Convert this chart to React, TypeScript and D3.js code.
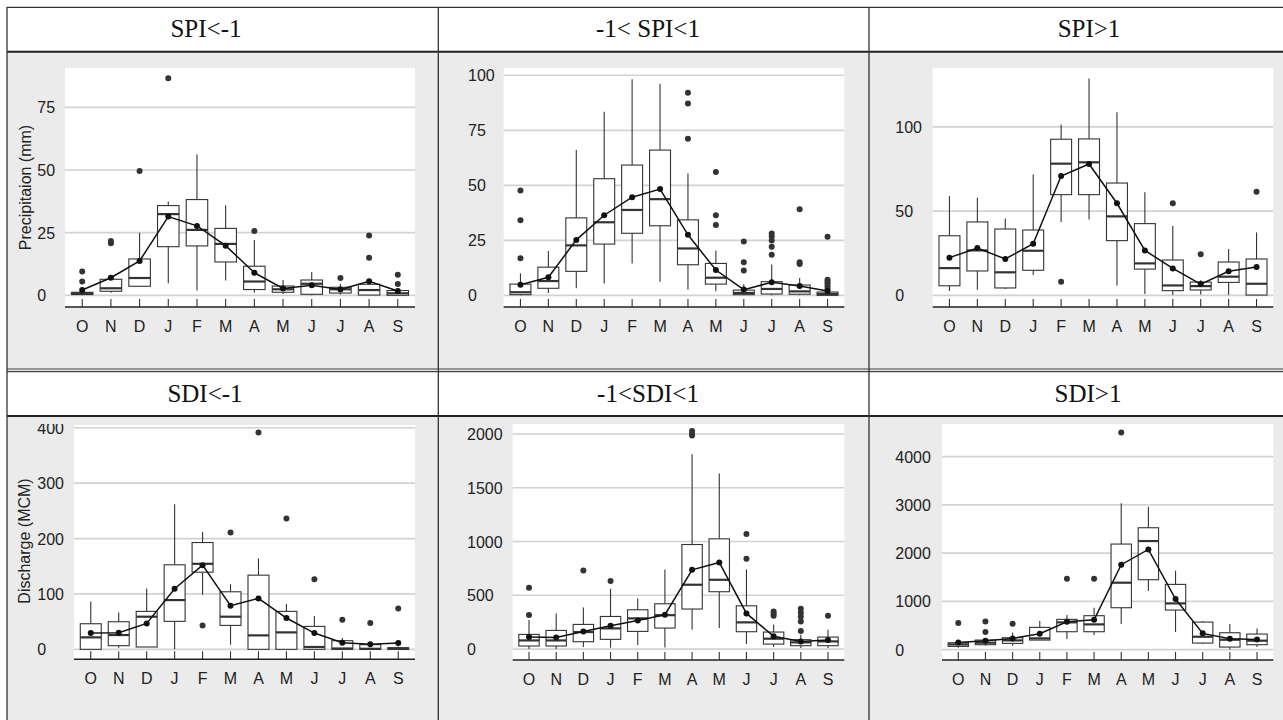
import React from "react";
import * as d3 from "d3";

const months = ["O", "N", "D", "J", "F", "M", "A", "M", "J", "J", "A", "S"];

// box stats per month: [lower whisker, q1, median, q3, upper whisker]
const spiDryBoxes = [
  [0, 0.3, 0.8, 1.2, 2.5],
  [1.0, 1.6, 2.8, 6.4, 7],
  [3.3, 3.6, 6.9, 14.5, 25.0],
  [4.8, 19.4, 32.4, 35.8, 37.4],
  [1.9, 19.7, 26.1, 38.2, 56.2],
  [5.9, 13.3, 20.5, 26.7, 35.9],
  [1, 2.3, 5.5, 11.6, 22.1],
  [0.5, 1.2, 2.4, 3.7, 6.1],
  [0, 0.4, 4.6, 6.1, 9.3],
  [0.3, 0.9, 2.4, 3.2, 4.5],
  [0, 0.1, 2.1, 4.4, 5.5],
  [0, 0, 0.8, 1.9, 2.5],
];
const spiDryMeans = [2.1, 7.0, 13.7, 31.4, 27.7, 19.8, 9.0, 2.7, 4.0, 2.3, 5.6, 1.7];
const spiDryOutliers = [[5.5, 9.5], [20.8, 21.7], [49.6], [86.6], [], [], [25.7], [], [], [6.9], [15.0, 23.9], [4.5, 8.2]];

const spiNormBoxes = [
  [0, 0.3, 1.4, 5.1, 10.0],
  [1.1, 3.2, 6.5, 12.8, 20.1],
  [3.2, 10.9, 22.7, 35.2, 66.0],
  [5.4, 23.3, 33.2, 53.0, 83.4],
  [14.5, 28.2, 38.8, 59.2, 98.2],
  [6.2, 31.6, 43.7, 66.0, 96.2],
  [2.6, 13.9, 21.3, 34.3, 55.4],
  [1.8, 5.1, 8.0, 14.5, 20.4],
  [0, 0.3, 1.1, 2.4, 5.0],
  [0, 0.6, 2.9, 6.2, 14.0],
  [0, 0.5, 1.8, 4.7, 7.9],
  [0, 0, 0.6, 1.5, 2.2],
];
const spiNormMeans = [4.8, 8.2, 25.2, 36.4, 44.6, 48.3, 27.5, 11.5, 2.6, 5.9, 4.2, 2.0];
const spiNormOutliers = [
  [16.8, 34.1, 47.6], [], [], [], [], [], [71.1, 87.2, 92.1], [32.0, 36.4, 56.0],
  [11.3, 15.0, 24.5], [18.4, 22.1, 24.9, 26.7, 28.1], [14.2, 15.0, 39.1], [2.9, 4.1, 5.3, 6.2, 7.1, 26.6],
];

const spiWetBoxes = [
  [2.6, 5.7, 16.2, 35.4, 59.0],
  [3.4, 14.5, 26.7, 43.6, 58.0],
  [3.8, 4.4, 13.7, 39.4, 45.7],
  [12.1, 14.9, 26.5, 38.8, 71.7],
  [43.6, 59.8, 78.2, 92.7, 101.4],
  [45.0, 59.8, 79.0, 92.9, 128.7],
  [5.9, 32.5, 46.9, 66.7, 108.7],
  [0.8, 15.6, 19.0, 42.6, 61.2],
  [0.2, 2.8, 5.9, 21.0, 41.2],
  [0.5, 3.2, 5.5, 7.9, 9.0],
  [0.2, 7.7, 11.1, 19.8, 27.5],
  [0, 0.2, 6.9, 21.6, 37.4],
];
const spiWetMeans = [22.4, 28.1, 21.6, 30.7, 70.9, 78.0, 54.7, 26.7, 16.0, 6.7, 14.3, 16.8];
const spiWetOutliers = [[], [], [], [], [8.1], [], [], [], [54.7], [24.4], [], [61.6]];

const sdiDryBoxes = [
  [0, 0, 21.6, 46.2, 86.5],
  [3, 6.6, 25.8, 49.8, 66.7],
  [4.2, 4.2, 58.9, 68.5, 109.9],
  [0, 50.5, 88.9, 152.6, 261.9],
  [98.5, 139.3, 154.4, 192.8, 212],
  [8.4, 43.2, 58.9, 103.9, 117.7],
  [0, 0, 25.2, 133.9, 164.0],
  [0, 0, 30.6, 68.5, 81.7],
  [0, 0, 4.2, 41.4, 60.1],
  [0, 0, 1.5, 15.6, 20.4],
  [0, 0, 1.0, 8.4, 12],
  [0, 0, 1.0, 3.0, 5],
];
const sdiDryMeans = [29.4, 30.0, 46.8, 109.3, 152.0, 78.7, 91.9, 56.5, 29.4, 12.0, 9.0, 11.4];
const sdiDryOutliers = [[], [], [], [], [43.2], [210.8], [391.6], [236.0], [126.7], [53.5], [47.4], [73.9]];

const sdiNormBoxes = [
  [0, 28, 80, 136, 269],
  [0, 28, 80, 173, 331],
  [19, 68, 158, 229, 387],
  [12, 90, 192, 303, 560],
  [37, 164, 285, 365, 471],
  [15, 195, 315, 421, 740],
  [180, 372, 598, 972, 1811],
  [195, 533, 644, 1025, 1632],
  [46, 161, 248, 402, 740],
  [19, 46, 96, 158, 229],
  [10, 31, 62, 87, 133],
  [9, 31, 71, 111, 180],
];
const sdiNormMeans = [111, 108, 164, 217, 266, 319, 737, 805, 331, 118, 71, 84];
const sdiNormOutliers = [
  [316, 570], [], [731], [632], [], [], [1985, 2000, 2028], [], [839, 1071],
  [310, 328, 350], [167, 257, 300, 337, 375], [310],
];

const sdiWetBoxes = [
  [40, 69, 110, 145, 170],
  [80, 104, 145, 200, 235],
  [83, 131, 193, 249, 359],
  [200, 200, 235, 463, 594],
  [221, 373, 567, 629, 718],
  [304, 373, 525, 705, 870],
  [532, 870, 1389, 2190, 3033],
  [1216, 1451, 2252, 2528, 2964],
  [366, 822, 960, 1354, 1637],
  [124, 138, 269, 573, 594],
  [7, 55, 207, 352, 532],
  [55, 104, 187, 325, 442],
];
const sdiWetMeans = [152, 187, 235, 332, 580, 622, 1762, 2079, 1050, 339, 228, 214];
const sdiWetOutliers = [[553], [366, 587], [539], [], [1471], [1471], [4504], [], [], [], [], []];

const spiDryTicks = [0, 25, 50, 75];
const spiNormTicks = [0, 25, 50, 75, 100];
const spiWetTicks = [0, 50, 100];
const sdiDryTicks = [0, 100, 200, 300, 400];
const sdiNormTicks = [0, 500, 1000, 1500, 2000];
const sdiWetTicks = [0, 1000, 2000, 3000, 4000];

const panels = [
  { title: "SPI<-1", boxes: spiDryBoxes, means: spiDryMeans, outliers: spiDryOutliers, ticks: spiDryTicks,
    x0: 65, x1: 415, top: 68, bottom: 307, domain: [-4.67, 90.7], labelX: 37.3, titleX: 206, titleY: 37.3,
    yTitle: "Precipitaion (mm)", yTitleX: 25.5, yTitleY: 187.5, clipTop: 0 },
  { title: "-1< SPI<1", boxes: spiNormBoxes, means: spiNormMeans, outliers: spiNormOutliers, ticks: spiNormTicks,
    x0: 503.7, x1: 844.3, top: 68, bottom: 307, domain: [-5.3, 103.3], labelX: 468, titleX: 648, titleY: 37.3, clipTop: 0 },
  { title: "SPI>1", boxes: spiWetBoxes, means: spiWetMeans, outliers: spiWetOutliers, ticks: spiWetTicks,
    x0: 932.7, x1: 1273.3, top: 68, bottom: 307, domain: [-6.9, 135], labelX: 895.3, titleX: 1089, titleY: 37.3, clipTop: 0 },
  { title: "SDI<-1", boxes: sdiDryBoxes, means: sdiDryMeans, outliers: sdiDryOutliers, ticks: sdiDryTicks,
    x0: 74, x1: 415, top: 425, bottom: 659.3, domain: [-18, 405], labelX: 37.3, titleX: 205, titleY: 401.7,
    yTitle: "Discharge (MCM)", yTitleX: 24.5, yTitleY: 541, clipTop: 424 },
  { title: "-1<SDI<1", boxes: sdiNormBoxes, means: sdiNormMeans, outliers: sdiNormOutliers, ticks: sdiNormTicks,
    x0: 512.7, x1: 844.3, top: 424, bottom: 660, domain: [-102, 2093], labelX: 467, titleX: 648, titleY: 401.7, clipTop: 424 },
  { title: "SDI>1", boxes: sdiWetBoxes, means: sdiWetMeans, outliers: sdiWetOutliers, ticks: sdiWetTicks,
    x0: 942, x1: 1273.3, top: 424, bottom: 660, domain: [-213, 4678], labelX: 895.3, titleX: 1088, titleY: 401.7, clipTop: 424 },
];

const sans = "'Liberation Sans', Arial, sans-serif";
const serif = "'Liberation Serif', 'Times New Roman', serif";
const boxStroke = "#333";

function Panel({ p, idx }: { p: any; idx: number }) {
  const idxs = d3.range(months.length);
  const x = d3.scalePoint<number>().domain(idxs).range([p.x0, p.x1]).padding(0.6);
  const y = d3.scaleLinear().domain(p.domain).range([p.bottom, p.top]);
  const bw = x.step() * 0.75;
  const line = d3.line<number>().x((d, i) => x(i)!).y((d) => y(d));
  const clipId = "clip" + idx;
  return (
    <g clipPath={p.clipTop ? `url(#${clipId})` : undefined}>
      {p.clipTop ? (
        <defs>
          <clipPath id={clipId}>
            <rect x={0} y={p.clipTop} width={1283} height={720 - p.clipTop} />
          </clipPath>
        </defs>
      ) : null}
      <rect x={p.x0} y={p.top} width={p.x1 - p.x0} height={p.bottom - p.top} fill="#fff" />
      {p.ticks.map((t: number) => (
        <g key={t}>
          <line x1={p.x0} x2={p.x1} y1={y(t)} y2={y(t)} stroke="#d2d2d2" strokeWidth={1.7} />
          <text x={p.labelX} y={y(t) + 6} fontSize={16} fontFamily={sans} fill="#222">{t}</text>
        </g>
      ))}
      {p.boxes.map((b: number[], i: number) => {
        const cx = x(i)!;
        return (
          <g key={i} stroke={boxStroke}>
            <line x1={cx} x2={cx} y1={y(b[4])} y2={y(b[3])} strokeWidth={1.1} />
            <line x1={cx} x2={cx} y1={y(b[1])} y2={y(b[0])} strokeWidth={1.1} />
            <rect x={cx - bw / 2} y={y(b[3])} width={bw} height={Math.max(0.5, y(b[1]) - y(b[3]))}
              fill="#fff" strokeWidth={1.1} />
            <line x1={cx - bw / 2} x2={cx + bw / 2} y1={y(b[2])} y2={y(b[2])} strokeWidth={2.2} />
          </g>
        );
      })}
      {p.outliers.map((os: number[], i: number) =>
        os.map((v, j) => <circle key={i + "-" + j} cx={x(i)!} cy={y(v)} r={3} fill="#333" />)
      )}
      <path d={line(p.means) || ""} fill="none" stroke="#111" strokeWidth={1.5} />
      {p.means.map((m: number, i: number) => (
        <circle key={i} cx={x(i)!} cy={y(m)} r={3} fill="#111" />
      ))}
      <line x1={p.x0} x2={p.x1} y1={p.bottom} y2={p.bottom} stroke="#222" strokeWidth={1.4} />
      {idxs.map((i) => (
        <g key={i}>
          <line x1={x(i)!} x2={x(i)!} y1={p.bottom - 8} y2={p.bottom} stroke="#333" strokeWidth={1.1} />
          <text x={x(i)!} y={p.bottom + 25} fontSize={16} fontFamily={sans} fill="#222" textAnchor="middle">
            {months[i]}
          </text>
        </g>
      ))}
      {p.yTitle ? (
        <text transform={`translate(${p.yTitleX},${p.yTitleY}) rotate(-90)`} textAnchor="middle"
          dominantBaseline="central" fontSize={16} fontFamily={sans} fill="#222">{p.yTitle}</text>
      ) : null}
    </g>
  );
}

export default function App() {
  const colX = [7, 438.3, 869];
  return (
    <svg width={1283} height={720} style={{ position: "absolute", left: 0, top: 0, background: "#fff" }}>
      <rect x={7} y={52} width={1276} height={317} fill="#ebebeb" />
      <rect x={7} y={416} width={1276} height={304} fill="#ebebeb" />
      <rect x={7} y={369} width={1276} height={2.7} fill="#e4e4e4" />
      {panels.map((p, i) => <Panel key={i} p={p} idx={i} />)}
      {panels.map((p, i) => (
        <text key={"t" + i} x={p.titleX} y={p.titleY} textAnchor="middle" fontSize={25} fontFamily={serif} fill="#111">
          {p.title}
        </text>
      ))}
      <line x1={7} x2={1283} y1={7.3} y2={7.3} stroke="#333" strokeWidth={1.3} />
      <line x1={7} x2={1283} y1={51.7} y2={51.7} stroke="#222" strokeWidth={2} />
      <line x1={7} x2={1283} y1={369} y2={369} stroke="#444" strokeWidth={1.2} />
      <line x1={7} x2={1283} y1={371.7} y2={371.7} stroke="#444" strokeWidth={1.2} />
      <line x1={7} x2={1283} y1={416} y2={416} stroke="#222" strokeWidth={2} />
      {colX.map((cx) => (
        <line key={cx} x1={cx} x2={cx} y1={7} y2={720} stroke="#333" strokeWidth={1.3} />
      ))}
    </svg>
  );
}
